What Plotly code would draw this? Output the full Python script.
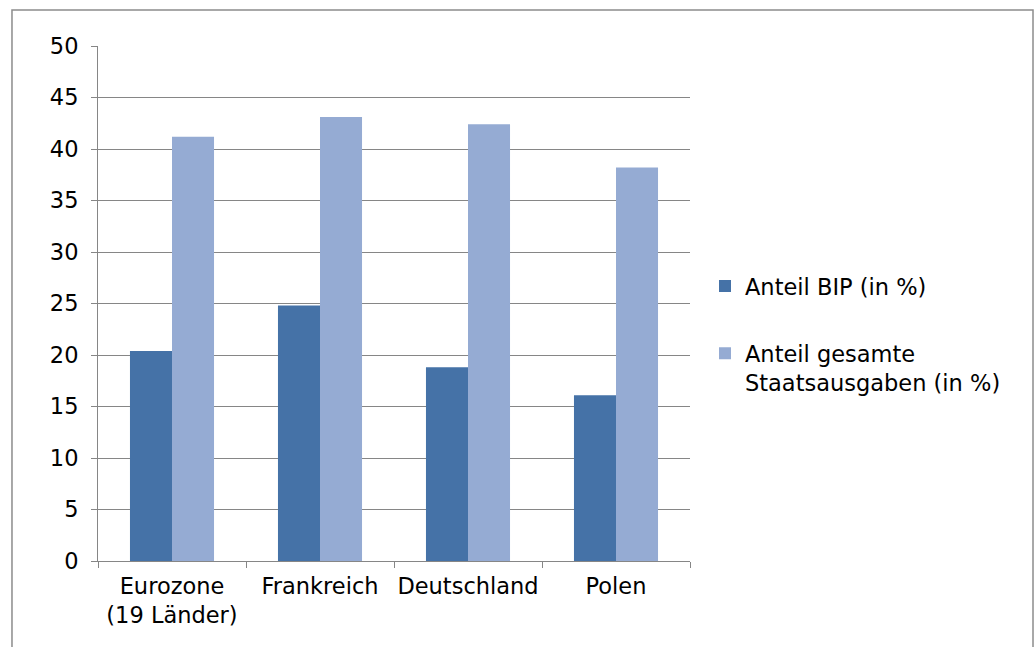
import plotly.graph_objects as go

categories = ["Eurozone<br>(19 Länder)", "Frankreich", "Deutschland", "Polen"]
anteil_bip = [20.4, 24.8, 18.8, 16.1]
anteil_staatsausgaben = [41.2, 43.1, 42.4, 38.2]
series_names = ["Anteil BIP (in %)", "Anteil gesamte<br>Staatsausgaben (in %)"]
y_ticks = list(range(0, 51, 5))

FONT = "DejaVu Sans, Verdana, sans-serif"
FS = 22.5
GRID = "#868686"

fig = go.Figure()
fig.add_trace(go.Bar(x=categories, y=anteil_bip, name=series_names[0],
                     marker=dict(color="#4572A7", line=dict(width=0)),
                     legendgroup="a"))
fig.add_trace(go.Bar(x=categories, y=anteil_staatsausgaben, name=series_names[1],
                     marker=dict(color="#95ABD3", line=dict(width=0)),
                     legendgroup="b"))

fig.update_layout(
    width=1035, height=647,
    margin=dict(l=98, r=345, t=46, b=86, autoexpand=False),
    paper_bgcolor="white", plot_bgcolor="white",
    font=dict(family=FONT, size=FS, color="#000000"),
    barmode="group", bargap=0.432, bargroupgap=0,
    showlegend=True,
    legend=dict(x=1.0253, xanchor="left", y=0.575, yanchor="top",
                traceorder="grouped", tracegroupgap=35, valign="top",
                font=dict(family=FONT, size=FS, color="#000000"),
                bgcolor="rgba(0,0,0,0)"),
    xaxis=dict(showline=True, linecolor=GRID, linewidth=1,
               ticks="outside", tickson="boundaries", ticklen=6, tickcolor=GRID,
               showgrid=False, ticklabelstandoff=5, tickangle=0, automargin=False,
               tickfont=dict(family=FONT, size=FS)),
    yaxis=dict(range=[0, 50], tickvals=y_ticks, showline=True, linecolor=GRID,
               linewidth=1, ticks="outside", ticklen=6, tickcolor=GRID,
               showgrid=True, gridcolor=GRID, gridwidth=1, zeroline=False,
               automargin=False,
               ticklabelstandoff=8, tickfont=dict(family=FONT, size=FS)),
    shapes=[dict(type="rect", xref="paper", yref="paper",
                 x0=-0.1453, x1=1.5794, y0=-0.2, y1=1.0699,
                 line=dict(color="#8C8C8C", width=1.5), fillcolor="rgba(0,0,0,0)",
                 layer="below")],
)

fig.write_html("out.html")
